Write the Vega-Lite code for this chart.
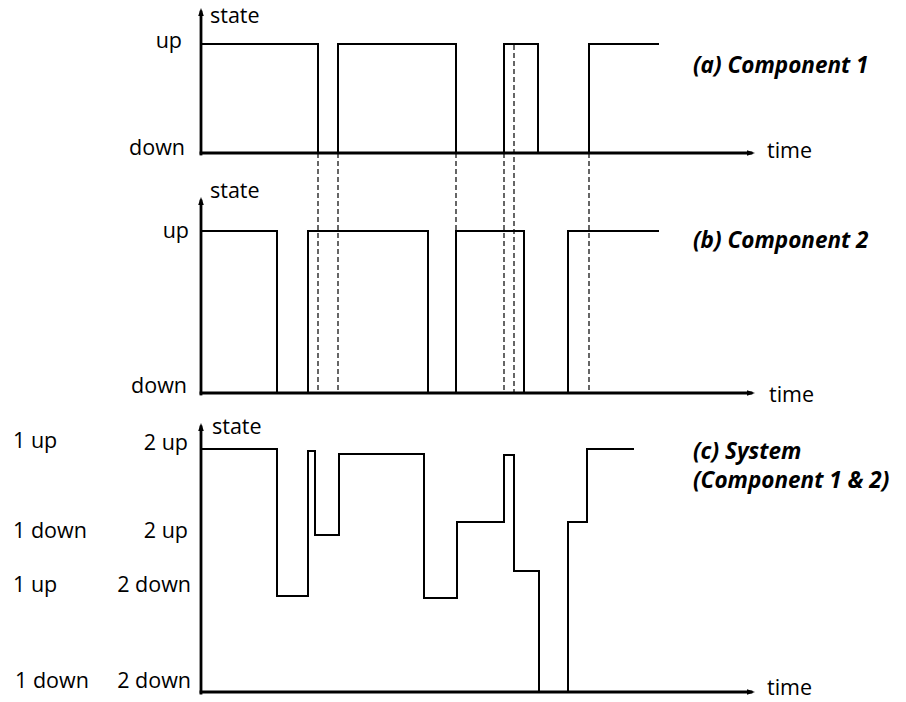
{
  "$schema": "https://vega.github.io/schema/vega-lite/v6.json",
  "width": 906,
  "height": 702,
  "autosize": "none",
  "padding": 0,
  "background": "white",
  "config": {"view": {"stroke": null}},
  "datasets": {
    "steps": [
      {"series": "c1", "i": 0, "t": 0, "v": 658},
      {"series": "c1", "i": 1, "t": 117, "v": 658},
      {"series": "c1", "i": 2, "t": 117, "v": 549},
      {"series": "c1", "i": 3, "t": 137, "v": 549},
      {"series": "c1", "i": 4, "t": 137, "v": 658},
      {"series": "c1", "i": 5, "t": 255, "v": 658},
      {"series": "c1", "i": 6, "t": 255, "v": 549},
      {"series": "c1", "i": 7, "t": 303, "v": 549},
      {"series": "c1", "i": 8, "t": 303, "v": 658},
      {"series": "c1", "i": 9, "t": 337, "v": 658},
      {"series": "c1", "i": 10, "t": 337, "v": 549},
      {"series": "c1", "i": 11, "t": 388, "v": 549},
      {"series": "c1", "i": 12, "t": 388, "v": 658},
      {"series": "c1", "i": 13, "t": 458, "v": 658},
      {"series": "c2", "i": 0, "t": 0, "v": 471},
      {"series": "c2", "i": 1, "t": 76, "v": 471},
      {"series": "c2", "i": 2, "t": 76, "v": 309},
      {"series": "c2", "i": 3, "t": 107, "v": 309},
      {"series": "c2", "i": 4, "t": 107, "v": 471},
      {"series": "c2", "i": 5, "t": 227, "v": 471},
      {"series": "c2", "i": 6, "t": 227, "v": 309},
      {"series": "c2", "i": 7, "t": 255, "v": 309},
      {"series": "c2", "i": 8, "t": 255, "v": 471},
      {"series": "c2", "i": 9, "t": 323, "v": 471},
      {"series": "c2", "i": 10, "t": 323, "v": 309},
      {"series": "c2", "i": 11, "t": 367, "v": 309},
      {"series": "c2", "i": 12, "t": 367, "v": 471},
      {"series": "c2", "i": 13, "t": 458, "v": 471},
      {"series": "sys", "i": 0, "t": 0, "v": 253},
      {"series": "sys", "i": 1, "t": 76, "v": 253},
      {"series": "sys", "i": 2, "t": 76, "v": 106},
      {"series": "sys", "i": 3, "t": 107, "v": 106},
      {"series": "sys", "i": 4, "t": 107, "v": 251},
      {"series": "sys", "i": 5, "t": 114, "v": 251},
      {"series": "sys", "i": 6, "t": 114, "v": 167},
      {"series": "sys", "i": 7, "t": 138, "v": 167},
      {"series": "sys", "i": 8, "t": 138, "v": 248},
      {"series": "sys", "i": 9, "t": 223, "v": 248},
      {"series": "sys", "i": 10, "t": 223, "v": 104},
      {"series": "sys", "i": 11, "t": 256, "v": 104},
      {"series": "sys", "i": 12, "t": 256, "v": 180},
      {"series": "sys", "i": 13, "t": 303, "v": 180},
      {"series": "sys", "i": 14, "t": 303, "v": 247},
      {"series": "sys", "i": 15, "t": 313, "v": 247},
      {"series": "sys", "i": 16, "t": 313, "v": 131},
      {"series": "sys", "i": 17, "t": 338, "v": 131},
      {"series": "sys", "i": 18, "t": 338, "v": 10},
      {"series": "sys", "i": 19, "t": 367, "v": 10},
      {"series": "sys", "i": 20, "t": 367, "v": 180},
      {"series": "sys", "i": 21, "t": 386, "v": 180},
      {"series": "sys", "i": 22, "t": 386, "v": 253},
      {"series": "sys", "i": 23, "t": 433, "v": 253}
    ],
    "axes": [
      {"t": 0, "v": 548, "t2": 0, "v2": 690},
      {"t": 0, "v": 549, "t2": 550, "v2": 549},
      {"t": 0, "v": 308, "t2": 0, "v2": 501},
      {"t": 0, "v": 309, "t2": 550, "v2": 309},
      {"t": 0, "v": 9, "t2": 0, "v2": 275},
      {"t": 0, "v": 10, "t2": 550, "v2": 10}
    ],
    "dashes": [
      {"t": 117, "v": 549, "v2": 309},
      {"t": 137, "v": 549, "v2": 309},
      {"t": 255, "v": 549, "v2": 471},
      {"t": 303, "v": 549, "v2": 309},
      {"t": 313, "v": 657, "v2": 309},
      {"t": 388, "v": 549, "v2": 309}
    ],
    "arrows": [
      {"t": 0, "v": 690, "dir": "up"},
      {"t": 0, "v": 501, "dir": "up"},
      {"t": 0, "v": 275, "dir": "up"},
      {"t": 550, "v": 549, "dir": "right"},
      {"t": 550, "v": 309, "dir": "right"},
      {"t": 550, "v": 10, "dir": "right"}
    ],
    "labelsLeft": [
      {"t": 9, "v": 679, "text": "state"},
      {"t": 9, "v": 504, "text": "state"},
      {"t": 11, "v": 268, "text": "state"},
      {"t": 566, "v": 544, "text": "time"},
      {"t": 568, "v": 300, "text": "time"},
      {"t": 566, "v": 7, "text": "time"},
      {"t": -188, "v": 254, "text": "1 up"},
      {"t": -188, "v": 164, "text": "1 down"},
      {"t": -188, "v": 110, "text": "1 up"},
      {"t": -186, "v": 14, "text": "1 down"}
    ],
    "labelsRight": [
      {"t": -19, "v": 654, "text": "up"},
      {"t": -16, "v": 547, "text": "down"},
      {"t": -12, "v": 464, "text": "up"},
      {"t": -14, "v": 309, "text": "down"},
      {"t": -13, "v": 252, "text": "2 up"},
      {"t": -13, "v": 164, "text": "2 up"},
      {"t": -10, "v": 110, "text": "2 down"},
      {"t": -10, "v": 14, "text": "2 down"}
    ],
    "titles": [
      {"t": 492, "v": 629, "text": "(a) Component 1"},
      {"t": 492, "v": 454, "text": "(b) Component 2"},
      {"t": 492, "v": 243, "text": "(c) System"},
      {"t": 492, "v": 214, "text": "(Component 1 & 2)"}
    ]
  },
  "layer": [
    {
      "data": {"name": "dashes"},
      "mark": {"type": "rule", "color": "black", "strokeWidth": 1.2, "strokeDash": [5, 3]},
      "encoding": {
        "x": {"field": "t", "type": "quantitative", "scale": {"domain": [-201, 705], "nice": false, "zero": false}, "axis": null},
        "y": {"field": "v", "type": "quantitative", "scale": {"domain": [0, 702], "nice": false, "zero": false}, "axis": null},
        "y2": {"field": "v2"}
      }
    },
    {
      "data": {"name": "steps"},
      "mark": {"type": "line", "color": "black", "strokeWidth": 2, "strokeJoin": "miter", "strokeCap": "butt"},
      "encoding": {
        "x": {"field": "t", "type": "quantitative"},
        "y": {"field": "v", "type": "quantitative"},
        "detail": {"field": "series"},
        "order": {"field": "i", "type": "quantitative"}
      }
    },
    {
      "data": {"name": "axes"},
      "mark": {"type": "rule", "color": "black", "strokeWidth": 2.8, "strokeCap": "square"},
      "encoding": {
        "x": {"field": "t", "type": "quantitative"},
        "y": {"field": "v", "type": "quantitative"},
        "x2": {"field": "t2"},
        "y2": {"field": "v2"}
      }
    },
    {
      "data": {"name": "arrows"},
      "mark": {"type": "point", "filled": true, "color": "black", "opacity": 1, "size": 64, "strokeWidth": 0},
      "encoding": {
        "x": {"field": "t", "type": "quantitative"},
        "y": {"field": "v", "type": "quantitative"},
        "shape": {"field": "dir", "type": "nominal", "legend": null, "scale": {"domain": ["up", "right"], "range": ["M0,-1L-0.7,1L0.7,1Z", "M1,0L-1,-0.7L-1,0.7Z"]}}
      }
    },
    {
      "data": {"name": "labelsLeft"},
      "mark": {"type": "text", "align": "left", "baseline": "alphabetic", "font": "Open Sans", "fontSize": 21.5, "color": "black"},
      "encoding": {
        "x": {"field": "t", "type": "quantitative"},
        "y": {"field": "v", "type": "quantitative"},
        "text": {"field": "text"}
      }
    },
    {
      "data": {"name": "labelsRight"},
      "mark": {"type": "text", "align": "right", "baseline": "alphabetic", "font": "Open Sans", "fontSize": 21.5, "color": "black"},
      "encoding": {
        "x": {"field": "t", "type": "quantitative"},
        "y": {"field": "v", "type": "quantitative"},
        "text": {"field": "text"}
      }
    },
    {
      "data": {"name": "titles"},
      "mark": {"type": "text", "align": "left", "baseline": "alphabetic", "font": "Open Sans", "fontSize": 22.5, "fontWeight": "bold", "fontStyle": "italic", "color": "black"},
      "encoding": {
        "x": {"field": "t", "type": "quantitative"},
        "y": {"field": "v", "type": "quantitative"},
        "text": {"field": "text"}
      }
    }
  ]
}
